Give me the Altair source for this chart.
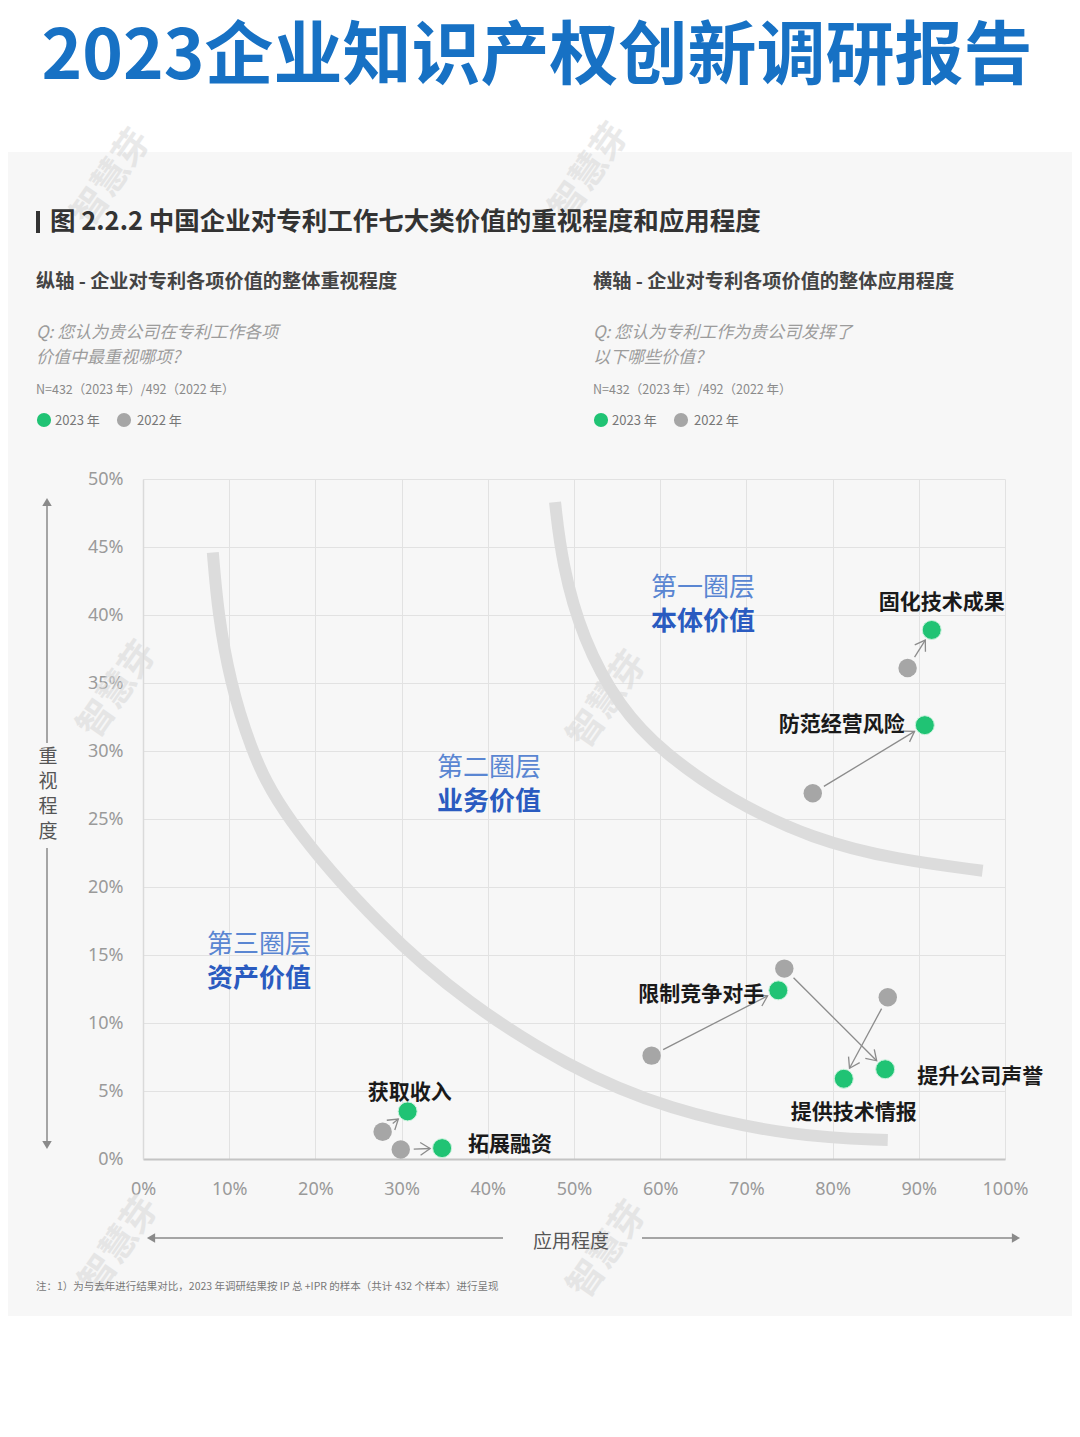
import math
import altair as alt
import pandas as pd

# ---------------- data ----------------
names = ["固化技术成果", "防范经营风险", "限制竞争对手", "提升公司声誉", "提供技术情报", "获取收入", "拓展融资"]
x_2023 = [91.5, 90.7, 73.7, 86.1, 81.3, 30.7, 34.7]   # 应用程度 %
y_2023 = [38.9, 31.9, 12.4, 6.6, 5.9, 3.5, 0.8]       # 重视程度 %
x_2022 = [88.7, 77.7, 59.0, 74.4, 86.4, 27.8, 29.9]
y_2022 = [36.1, 26.9, 7.6, 14.0, 11.9, 2.0, 0.7]

outer_x = [47.8, 48.6, 51.0, 55.3, 60.3, 68.1, 77.7, 87.5, 97.4]
outer_y = [48.3, 43.8, 38.2, 33.2, 29.9, 26.4, 23.5, 22.0, 21.2]
inner_x = [8.1, 8.7, 10.1, 12.4, 15.9, 27.8, 37.6, 49.2, 60.8, 75.9, 86.4]
inner_y = [44.6, 40.1, 35.1, 30.3, 25.4, 16.8, 11.5, 6.8, 3.6, 1.6, 1.4]

x_ticks = [0, 10, 20, 30, 40, 50, 60, 70, 80, 90, 100]
y_ticks = [0, 5, 10, 15, 20, 25, 30, 35, 40, 45, 50]

# ---------------- layout ----------------
W, H = 862, 680
OX, OY = 143, 479            # page position of plot origin
PX, PY = W / 100.0, H / 50.0  # pixels per data unit
FONT = "Noto Sans CJK SC"
GREEN = "#20c374"
GRAY = "#a6a6a6"

pts = pd.DataFrame({"name": names, "x23": x_2023, "y23": y_2023,
                    "x22": x_2022, "y22": y_2022})

# arrow geometry (shortened so it sits between the dots)
rows = []
for n, a, b, c, d in zip(names, x_2022, y_2022, x_2023, y_2023):
    dxp = (c - a) * PX
    dyp = (d - b) * PY
    L = math.hypot(dxp, dyp)
    ux, uy = dxp / L, dyp / L
    g0, g1 = 13.0, 12.0
    rows.append({
        "name": n,
        "xs": a + ux * g0 / PX, "ys": b + uy * g0 / PY,
        "xe": c - ux * g1 / PX, "ye": d - uy * g1 / PY,
        "ang": math.degrees(math.atan2(-dyp, dxp)) % 360,
    })
arrows = pd.DataFrame(rows)

curves = pd.DataFrame(
    [{"c": "outer", "i": i, "x": x, "y": y} for i, (x, y) in enumerate(zip(outer_x, outer_y))]
    + [{"c": "inner", "i": i, "x": x, "y": y} for i, (x, y) in enumerate(zip(inner_x, inner_y))]
)

dummy = pd.DataFrame({"a": [0]})

x_axis = alt.Axis(values=x_ticks, labelExpr="datum.value + '%'", title=None, ticks=False,
                  labelPadding=21, labelFontSize=18, labelColor="#9a9a9a", labelFont="Noto Sans",
                  labelFlush=False,
                  domainColor="#c4c4c4", domainWidth=2, gridColor="#e2e2e2", grid=True)
y_axis = alt.Axis(values=y_ticks, labelExpr="datum.value + '%'", title=None, ticks=False,
                  labelPadding=20, labelFontSize=18, labelColor="#9a9a9a", labelFont="Noto Sans",
                  labelFlush=False,
                  domainColor="#dadada", domainWidth=1.5, gridColor="#e2e2e2", grid=True)
xs = alt.Scale(domain=[0, 100], nice=False)
ys = alt.Scale(domain=[0, 50], nice=False)


def X(f):
    return alt.X(f, type="quantitative", scale=xs, axis=x_axis)


def Y(f):
    return alt.Y(f, type="quantitative", scale=ys, axis=y_axis)


def px(v):
    return alt.value(v - OX)


def py(v):
    return alt.value(v - OY)


def txt(s, x, y, size, color, weight="normal", align="left", style="normal",
        font=FONT, angle=None, opacity=1.0, line_height=None):
    kw = dict(text=s, align=align, baseline="middle", fontSize=size, color=color,
              fontWeight=weight, font=font, fontStyle=style, opacity=opacity)
    if angle is not None:
        kw["angle"] = angle
    if line_height is not None:
        kw["lineHeight"] = line_height
    return alt.Chart(dummy).mark_text(**kw).encode(x=px(x), y=py(y))


def rect(x1, y1, x2, y2, color):
    return alt.Chart(dummy).mark_rect(color=color).encode(
        x=px(x1), x2=px(x2), y=py(y1), y2=py(y2))


def hline(x1, x2, y, color="#8a8a8a", w=1.5):
    return alt.Chart(dummy).mark_rule(color=color, strokeWidth=w).encode(
        x=px(x1), x2=px(x2), y=py(y))


def vline(x, y1, y2, color="#8a8a8a", w=1.5):
    return alt.Chart(dummy).mark_rule(color=color, strokeWidth=w).encode(
        x=px(x), y=py(y1), y2=py(y2))


def dot(x, y, color, size=200, shape="circle"):
    return alt.Chart(dummy).mark_point(shape=shape, filled=True, color=color, size=size,
                                       opacity=1).encode(x=px(x), y=py(y))


layers = []

# white bands above and below the gray panel
layers.append(rect(0, 0, 1080, 152, "#ffffff"))
layers.append(rect(0, 1316, 1080, 1437, "#ffffff"))

# watermarks
for (wx, wy) in [(112, 178), (590, 172), (118, 690), (608, 700),
                 (120, 1245), (608, 1250)]:
    layers.append(txt("智慧芽", wx, wy, 36, "#d8d8d8", weight="bold", align="center",
                      angle=305, opacity=0.55))

# curves
layers.append(alt.Chart(curves).mark_line(color="#dcdcdc", strokeWidth=12,
                                          interpolate="basis", strokeCap="butt").encode(
    x=X("x"), y=Y("y"), detail="c:N", order="i:Q"))

# arrows
layers.append(alt.Chart(arrows).mark_rule(color="#8c8c8c", strokeWidth=1.3).encode(
    x=X("xs"), y=Y("ys"), x2="xe:Q", y2="ye:Q"))
layers.append(alt.Chart(arrows).mark_point(shape="M -1 -0.65 L 0 0 L -1 0.65", filled=False,
                                           color="#8c8c8c", strokeWidth=1.3, size=380,
                                           opacity=1).encode(
    x=X("xe"), y=Y("ye"), angle=alt.Angle("ang:Q", scale=None)))

# points
layers.append(alt.Chart(pts).mark_circle(color=GRAY, size=340, opacity=1).encode(
    x=X("x22"), y=Y("y22")))
layers.append(alt.Chart(pts).mark_circle(color=GREEN, size=360, opacity=1,
                                         stroke="#c9f2dc", strokeWidth=1).encode(
    x=X("x23"), y=Y("y23")))

# point labels
label_style = {
    "固化技术成果": ("center", 10, -27),
    "防范经营风险": ("right", -20, 0),
    "限制竞争对手": ("right", -14, 5),
    "提升公司声誉": ("left", 32, 8),
    "提供技术情报": ("center", 10, 34),
    "获取收入": ("center", 2, -18),
    "拓展融资": ("left", 26, -3),
}
for n in names:
    al, ddx, ddy = label_style[n]
    layers.append(alt.Chart(pts[pts["name"] == n]).mark_text(
        align=al, dx=ddx, dy=ddy, baseline="middle", fontSize=21, fontWeight="bold",
        font=FONT, color="#1a1a1a").encode(x=X("x23"), y=Y("y23"), text="name:N"))

# ring labels
for (a, b, cx, cy) in [("第一圈层", "本体价值", 703, 588),
                       ("第二圈层", "业务价值", 489, 768),
                       ("第三圈层", "资产价值", 259, 945)]:
    layers.append(txt(a, cx, cy, 26, "#5a86d2", align="center"))
    layers.append(txt(b, cx, cy + 34, 26, "#2a5bc0", weight="bold", align="center"))

# axis arrows
layers.append(vline(47, 505, 743))
layers.append(vline(47, 848, 1142))
layers.append(dot(47, 502, "#8a8a8a", 90, "triangle-up"))
layers.append(dot(47, 1145, "#8a8a8a", 90, "triangle-down"))
layers.append(txt(["重", "视", "程", "度"], 48, 757, 19, "#555555", align="center",
                  line_height=25))
layers.append(hline(155, 503, 1238))
layers.append(hline(642, 1012, 1238))
layers.append(dot(151, 1238, "#8a8a8a", 90, "triangle-left"))
layers.append(dot(1016, 1238, "#8a8a8a", 90, "triangle-right"))
layers.append(txt("应用程度", 571, 1242, 19, "#555555", align="center"))

# header
layers.append(txt("2023企业知识产权创新调研报告", 537, 58, 69, "#1771c4", weight="bold",
                  align="center"))
layers.append(alt.Chart(dummy).mark_rule(color="#333333", strokeWidth=4).encode(
    x=px(38), y=py(211), y2=py(233)))
layers.append(txt("图 2.2.2 中国企业对专利工作七大类价值的重视程度和应用程度", 50, 222, 25.5,
                  "#333333", weight="bold"))
for (sx, sub, q1, q2) in [(36, "纵轴 - 企业对专利各项价值的整体重视程度",
                           "Q: 您认为贵公司在专利工作各项", "价值中最重视哪项?"),
                          (593, "横轴 - 企业对专利各项价值的整体应用程度",
                           "Q: 您认为专利工作为贵公司发挥了", "以下哪些价值?")]:
    layers.append(txt(sub, sx, 282, 19.2, "#444444", weight="bold"))
    layers.append(txt(q1, sx, 333, 17, "#9c9c9c", style="italic"))
    layers.append(txt(q2, sx, 358, 17, "#9c9c9c", style="italic"))
    layers.append(txt("N=432（2023 年）/492（2022 年）", sx, 390, 12.5, "#8a8a8a"))
    layers.append(dot(sx + 8, 420, GREEN, 200))
    layers.append(txt("2023 年", sx + 19, 421, 13, "#777777"))
    layers.append(dot(sx + 88, 420, GRAY, 200))
    layers.append(txt("2022 年", sx + 101, 421, 13, "#777777"))

layers.append(txt("注：1）为与去年进行结果对比，2023 年调研结果按 IP 总 +IPR 的样本（共计 432 个样本）进行呈现",
                  36, 1287, 10.5, "#777777"))

chart = alt.layer(*layers).properties(
    width=W, height=H,
    padding={"left": OX - 8, "top": OY - 8, "right": 1064 - (OX - 8) - W,
             "bottom": 1421 - (OY - 8) - H},
    autosize=alt.AutoSizeParams(type="none"),
).configure(background="#f7f7f7").configure_view(stroke=None)

chart.save("out.html", embed_options={"renderer": "svg", "actions": False})
